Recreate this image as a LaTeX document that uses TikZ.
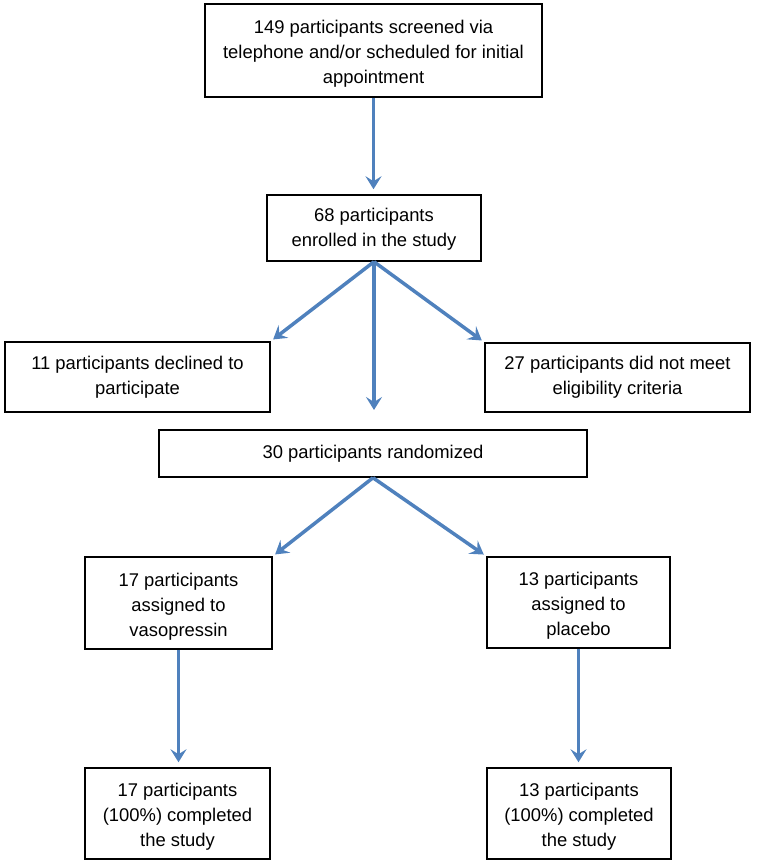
\documentclass[tikz,border=0pt]{standalone}
\usepackage{fontspec}
\setmainfont{Liberation Sans}
\usetikzlibrary{arrows.meta}
\definecolor{arrowblue}{RGB}{79,129,189}
\newcommand\mytopstrut{\rule{0pt}{20pt}}
\tikzset{
  box/.style={draw=black, line width=1.5pt, fill=white, align=center, inner sep=0pt,
    font=\fontsize{18.4}{25}\selectfont},
  flow/.style={draw=arrowblue, line width=3.5pt,
    -{Stealth[length=13pt,width=16pt,inset=5pt]}}
}
\begin{document}
\begin{tikzpicture}[x=1pt,y=-1pt]
\useasboundingbox (0,0) rectangle (757,865);
\node[box, minimum width=337pt, minimum height=93pt] (b1) at (373.5,50.5)
  {\mytopstrut 149 participants screened via\\telephone and/or scheduled for initial\\appointment};
\node[box, minimum width=214pt, minimum height=66pt] (b2) at (374,228)
  {\rule{0pt}{16pt}68 participants\\enrolled in the study};
\node[box, minimum width=265pt, minimum height=70pt] (b3) at (137.5,377)
  {11 participants declined to\\participate};
\node[box, minimum width=265pt, minimum height=69pt] (b4) at (617.5,377.5)
  {27 participants did not meet\\eligibility criteria};
\node[box, minimum width=428pt, minimum height=47pt] (b5) at (373,453.5)
  {30 participants randomized};
\node[box, minimum width=187pt, minimum height=92pt] (b6) at (178.5,603)
  {\mytopstrut 17 participants\\assigned to\\vasopressin};
\node[box, minimum width=183pt, minimum height=91pt] (b7) at (578.5,602.5)
  {\mytopstrut 13 participants\\assigned to\\placebo};
\node[box, minimum width=185pt, minimum height=91pt] (b8) at (177.5,813.5)
  {\mytopstrut 17 participants\\(100\%) completed\\the study};
\node[box, minimum width=184pt, minimum height=91pt] (b9) at (579,813.5)
  {\mytopstrut 13 participants\\(100\%) completed\\the study};
\coordinate (mid) at (373.5,410);
\draw[flow, shorten >=5pt] (b1.south) -- (b1.south |- b2.north);
\draw[flow, shorten >=3pt] (b2.south) -- (b3.north east);
\draw[flow, shorten >=3pt] (b2.south) -- (b4.north west);
\draw[flow] (b2.south) -- (b2.south |- mid);
\draw[flow, shorten >=3pt] (b5.south) -- (b6.north east);
\draw[flow, shorten >=3pt] (b5.south) -- (b7.north west);
\draw[flow, shorten >=5pt] (b6.south) -- (b6.south |- b8.north);
\draw[flow, shorten >=5pt] (b7.south) -- (b7.south |- b9.north);
\end{tikzpicture}
\end{document}
